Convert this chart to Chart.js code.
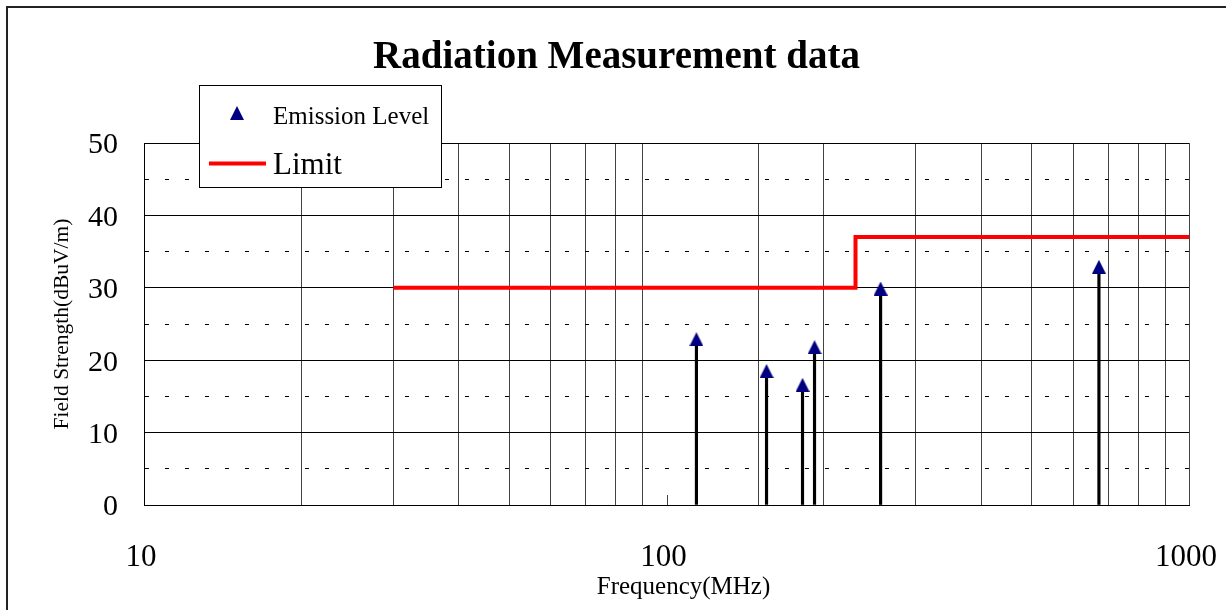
<!DOCTYPE html>
<html>
<head>
<meta charset="utf-8">
<title>Radiation Measurement data</title>
<script src="https://cdn.jsdelivr.net/npm/chart.js@4.4.1/dist/chart.umd.min.js"></script>
<style>
  html, body { margin: 0; padding: 0; background: #ffffff; }
  canvas { display: block; }
</style>
</head>
<body>
<canvas id="chart" width="1226" height="610"></canvas>
<script>
// Measured emission peaks (MHz, dBuV/m)
const emissionFreq  = [114.1, 155.4, 182.1, 192.0, 256.9, 672.4];
const emissionLevel = [22.9, 18.5, 16.6, 21.8, 29.9, 32.9];

// Limit line (stepped at 230 MHz)
const limitFreq  = [30, 230, 230, 1000];
const limitLevel = [30, 30, 37, 37];

// Labelled ticks
const freqTickLabels  = [10, 100, 1000];
const levelTickLabels = [0, 10, 20, 30, 40, 50];

const SERIF = "'Liberation Serif', 'Times New Roman', serif";
const MARKER_COLOR = '#000080';
const LIMIT_COLOR = '#ff0000';
const X_TITLE = 'Frequency(MHz)';

// Triangle marker sprite, centred on its data point
function makeTriangle(w, h, color) {
  const c = document.createElement('canvas');
  c.width = w; c.height = h;
  const g = c.getContext('2d');
  g.fillStyle = color;
  g.beginPath();
  g.moveTo(w / 2, 0);
  g.lineTo(w, h);
  g.lineTo(0, h);
  g.closePath();
  g.fill();
  return c;
}
const triangle = makeTriangle(14, 14, MARKER_COLOR);

const points = emissionFreq.map((f, i) => ({ x: f, y: emissionLevel[i] }));
const limitPoints = limitFreq.map((f, i) => ({ x: f, y: limitLevel[i] }));

// White page with the outer frame
const pagePlugin = {
  id: 'page',
  beforeDraw(chart) {
    const ctx = chart.ctx;
    ctx.save();
    ctx.fillStyle = '#ffffff';
    ctx.fillRect(0, 0, chart.width, chart.height);
    ctx.strokeStyle = '#222222';
    ctx.lineWidth = 2;
    ctx.beginPath();
    ctx.moveTo(7, chart.height);
    ctx.lineTo(7, 7);
    ctx.lineTo(chart.width, 7);
    ctx.stroke();
    ctx.restore();
  }
};

// Short tick at 100 MHz where the full grid line is omitted,
// plus the frequency axis caption under the 100 MHz label
const decadeTickPlugin = {
  id: 'decadeTick',
  beforeDatasetsDraw(chart) {
    const xs = chart.scales.x;
    const area = chart.chartArea;
    const px = Math.round(xs.getPixelForValue(100)) + 0.5;
    const ctx = chart.ctx;
    ctx.save();
    ctx.strokeStyle = '#444444';
    ctx.lineWidth = 1;
    ctx.beginPath();
    ctx.moveTo(px, area.bottom - 10);
    ctx.lineTo(px, area.bottom);
    ctx.stroke();

    ctx.fillStyle = '#000000';
    ctx.font = '25px ' + SERIF;
    ctx.textAlign = 'center';
    ctx.textBaseline = 'middle';
    ctx.fillText(X_TITLE, xs.getPixelForValue(100) + 17, 587);
    ctx.restore();
  }
};

// Boxed legend in the upper-left corner of the plot
const boxLegendPlugin = {
  id: 'boxLegend',
  afterDraw(chart) {
    const ctx = chart.ctx;
    const bx = 199, by = 85, bw = 242, bh = 102;
    ctx.save();
    ctx.fillStyle = '#ffffff';
    ctx.fillRect(bx, by, bw, bh);
    ctx.strokeStyle = '#000000';
    ctx.lineWidth = 1;
    ctx.strokeRect(bx + 0.5, by + 0.5, bw, bh);

    ctx.drawImage(triangle, 237 - 7, 113 - 7);
    ctx.fillStyle = '#000000';
    ctx.textBaseline = 'middle';
    ctx.textAlign = 'left';
    ctx.font = '25px ' + SERIF;
    ctx.fillText(chart.data.datasets[2].label, 273, 117);

    ctx.strokeStyle = LIMIT_COLOR;
    ctx.lineWidth = 4;
    ctx.beginPath();
    ctx.moveTo(209, 163.5);
    ctx.lineTo(266, 163.5);
    ctx.stroke();
    ctx.font = '31px ' + SERIF;
    ctx.fillText(chart.data.datasets[0].label, 273, 166);
    ctx.restore();
  }
};

new Chart(document.getElementById('chart'), {
  type: 'scatter',
  data: {
    datasets: [
      {
        type: 'line',
        label: 'Limit',
        data: limitPoints,
        borderColor: LIMIT_COLOR,
        borderWidth: 4,
        pointRadius: 0,
        tension: 0,
        fill: false,
        order: 2
      },
      {
        type: 'bar',
        label: 'stems',
        data: points,
        backgroundColor: '#000000',
        borderWidth: 0,
        barThickness: 2.5,
        order: 1
      },
      {
        type: 'scatter',
        label: 'Emission Level',
        data: points,
        pointStyle: triangle,
        pointRadius: 7,
        showLine: false,
        order: 0
      }
    ]
  },
  options: {
    responsive: false,
    animation: false,
    events: [],
    layout: { padding: { left: 7, right: 0, top: 0, bottom: 0 } },
    plugins: {
      legend: { display: false },
      tooltip: { enabled: false },
      title: {
        display: true,
        text: 'Radiation Measurement data',
        color: '#000000',
        font: { family: SERIF, size: 39, weight: 'bold', lineHeight: 1.2 },
        padding: { top: 34.6, bottom: 61.6 }
      }
    },
    scales: {
      x: {
        type: 'logarithmic',
        min: 10,
        max: 1000,
        offset: false,
        afterFit(scale) {
          scale.height = 105;
          scale.paddingLeft = 0;
          scale.paddingRight = 37;
        },
        grid: {
          offset: false,
          color: (c) => (c.tick && c.tick.value === 100) ? 'rgba(0,0,0,0)' : '#444444',
          lineWidth: 1,
          drawTicks: false
        },
        border: { display: true, color: '#000000', width: 1 },
        ticks: {
          autoSkip: false,
          maxRotation: 0,
          padding: 34,
          labelOffset: -3,
          color: '#000000',
          font: { family: SERIF, size: 31 },
          callback: (v) => freqTickLabels.includes(v) ? String(v) : ''
        },
        title: { display: false }
      },
      y: {
        type: 'linear',
        min: 0,
        max: 50,
        afterFit(scale) {
          scale.width = 137;
          scale.paddingTop = 0;
          scale.paddingBottom = 0;
        },
        grid: {
          color: '#000000',
          lineWidth: 1,
          drawTicks: false
        },
        border: {
          display: true,
          color: '#000000',
          width: 1,
          dash: (c) => (c.tick && c.tick.value % 10 !== 0) ? [4, 16] : []
        },
        ticks: {
          stepSize: 5,
          autoSkip: false,
          padding: 26,
          labelOffset: 2.5,
          color: '#000000',
          font: { family: SERIF, size: 30 },
          callback: (v) => levelTickLabels.includes(v) ? String(v) : ''
        },
        title: {
          display: true,
          text: 'Field Strength(dBuV/m)',
          color: '#000000',
          font: { family: SERIF, size: 21.5, lineHeight: 1.2 },
          padding: { top: 42, bottom: 0 }
        }
      }
    }
  },
  plugins: [pagePlugin, decadeTickPlugin, boxLegendPlugin]
});
</script>
</body>
</html>
